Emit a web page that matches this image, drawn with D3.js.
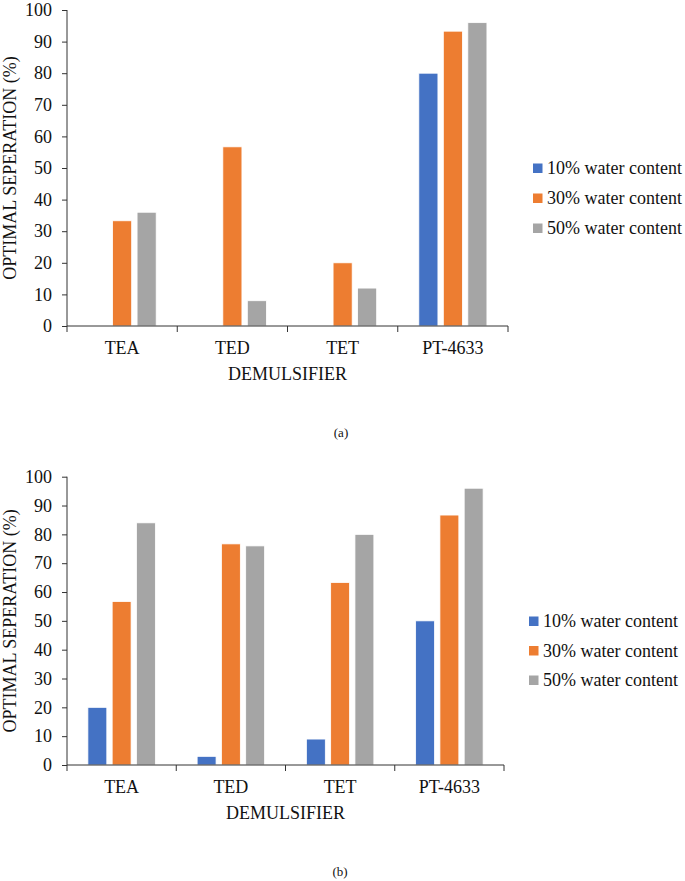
<!DOCTYPE html>
<html>
<head>
<meta charset="utf-8">
<title>Optimal separation</title>
<script src="https://cdn.jsdelivr.net/npm/d3@7"></script>
<style>
  body { margin: 0; background: #fff; }
  svg { display: block; }
  svg text { font-family: "Liberation Serif", "Times New Roman", serif !important; fill: #111; }
  .axis path, .axis line { stroke: #333; }
  .axis text { font-size: 18px; }
</style>
</head>
<body>
<svg id="chart" width="685" height="881"></svg>
<script>
// demulsifiers on the x axis
var categories = ["TEA", "TED", "TET", "PT-4633"];
var seriesNames = ["10% water content", "30% water content", "50% water content"];
var colors = ["#4472C4", "#ED7D31", "#A5A5A5"];
var yTicks = [0, 10, 20, 30, 40, 50, 60, 70, 80, 90, 100];

// panel (a)
var aTen = [0, 0, 0, 80];
var aThirty = [33.3, 56.7, 20, 93.3];
var aFifty = [36, 8, 12, 96];

// panel (b)
var bTen = [20, 3, 9, 50];
var bThirty = [56.7, 76.7, 63.3, 86.7];
var bFifty = [84, 76, 80, 96];

var svg = d3.select("#chart");

function drawChart(cfg) {
  var g = svg.append("g");
  var series = [cfg.ten, cfg.thirty, cfg.fifty];

  var x = d3.scaleBand().domain(categories).range([cfg.left, cfg.right]);
  var xs = d3.scaleBand().domain(d3.range(3)).range([0, x.bandwidth()])
    .paddingInner(0.22).paddingOuter(0.86);
  var y = d3.scaleLinear().domain([0, 100]).range([cfg.bottom, cfg.top]);

  // bars, one group per demulsifier
  var groups = g.selectAll("g.cat")
    .data(categories)
    .enter().append("g")
    .attr("class", "cat")
    .attr("transform", function (d) { return "translate(" + x(d) + ",0)"; });

  groups.selectAll("rect")
    .data(function (d, i) { return series.map(function (s, k) { return { k: k, v: s[i] }; }); })
    .enter().append("rect")
    .filter(function (d) { return d.v > 0; })
    .attr("x", function (d) { return xs(d.k); })
    .attr("width", xs.bandwidth())
    .attr("y", function (d) { return y(d.v); })
    .attr("height", function (d) { return y(0) - y(d.v); })
    .style("fill", function (d) { return colors[d.k]; })
    .style("stroke", "#fff")
    .style("stroke-width", 0.8);

  // y axis
  g.append("g")
    .attr("class", "axis")
    .attr("font-family", null)
    .attr("transform", "translate(" + cfg.left + ",0)")
    .call(d3.axisLeft(y).tickValues(yTicks).tickSize(5).tickPadding(10).tickSizeOuter(0))
    .call(function (a) {
      a.attr("font-family", null).attr("font-size", null);
      a.select(".domain").attr("d", "M0," + y(0) + "V" + y(100));
    });

  // x axis, ticks between categories
  var xa = g.append("g")
    .attr("class", "axis")
    .attr("transform", "translate(0," + cfg.bottom + ")");
  xa.append("path")
    .attr("d", "M" + cfg.left + ",0H" + cfg.right)
    .style("fill", "none").style("stroke", "#333");
  xa.selectAll("line")
    .data(d3.range(categories.length + 1))
    .enter().append("line")
    .attr("x1", function (i) { return cfg.left + i * x.step(); })
    .attr("x2", function (i) { return cfg.left + i * x.step(); })
    .attr("y1", 0).attr("y2", 6)
    .style("stroke", "#333");
  xa.selectAll("text")
    .data(categories)
    .enter().append("text")
    .attr("x", function (d) { return x(d) + x.bandwidth() / 2; })
    .attr("y", 28)
    .attr("text-anchor", "middle")
    .text(function (d) { return d; });

  // axis titles
  g.append("text")
    .attr("x", (cfg.left + cfg.right) / 2)
    .attr("y", cfg.bottom + 54)
    .attr("text-anchor", "middle")
    .style("font-size", "18px")
    .text("DEMULSIFIER");
  g.append("text")
    .attr("transform", "translate(16," + (cfg.top + cfg.bottom) / 2 + ") rotate(-90)")
    .attr("text-anchor", "middle")
    .style("font-size", "18px")
    .text("OPTIMAL SEPERATION (%)");

  // legend
  var leg = g.selectAll("g.leg")
    .data(seriesNames)
    .enter().append("g")
    .attr("class", "leg")
    .attr("transform", function (d, i) { return "translate(" + cfg.legX + "," + (cfg.legY + i * cfg.legStep) + ")"; });
  leg.append("rect")
    .attr("x", 0).attr("y", -4.5)
    .attr("width", 9.5).attr("height", 9.5)
    .style("fill", function (d, i) { return colors[i]; });
  leg.append("text")
    .attr("x", 14).attr("y", 6)
    .style("font-size", "18px")
    .text(function (d) { return d; });

  // panel caption
  g.append("text")
    .attr("x", cfg.capX).attr("y", cfg.capY)
    .attr("text-anchor", "middle")
    .style("font-size", "13px")
    .text(cfg.caption);
}

drawChart({
  ten: aTen, thirty: aThirty, fifty: aFifty,
  left: 67, right: 508, top: 10, bottom: 326,
  legX: 533, legY: 168, legStep: 30,
  caption: "(a)", capX: 341, capY: 437
});

drawChart({
  ten: bTen, thirty: bThirty, fifty: bFifty,
  left: 67, right: 504, top: 476.7, bottom: 765,
  legX: 529, legY: 621, legStep: 29.5,
  caption: "(b)", capX: 340, capY: 876
});
</script>
</body>
</html>
